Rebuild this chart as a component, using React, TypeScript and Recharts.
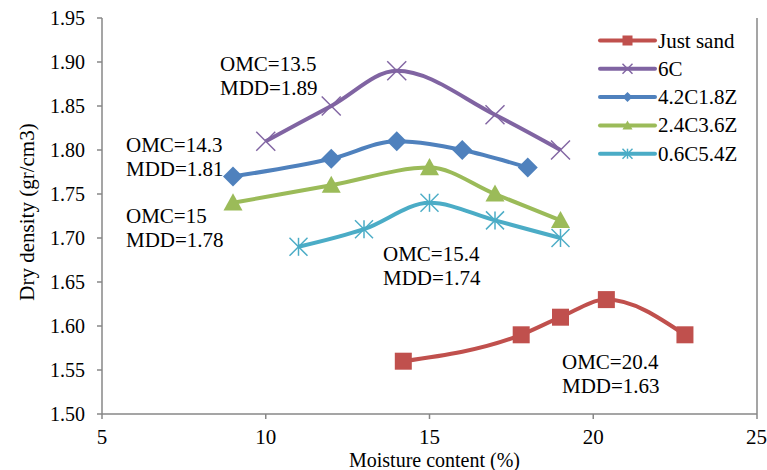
import React from 'react';
import { LineChart, Line, XAxis, YAxis, ReferenceLine } from 'recharts';

const moistureTicks = [5, 10, 15, 20, 25];
const densityTicks = [1.5, 1.55, 1.6, 1.65, 1.7, 1.75, 1.8, 1.85, 1.9, 1.95];

const seriesNames = ['Just sand', '6C', '4.2C1.8Z', '2.4C3.6Z', '0.6C5.4Z'];

const justSandMoisture = [14.2, 17.8, 19, 20.4, 22.8];
const justSandDensity = [1.56, 1.59, 1.61, 1.63, 1.59];

const c6Moisture = [10, 12, 14, 17, 19];
const c6Density = [1.81, 1.85, 1.89, 1.84, 1.8];

const c42z18Moisture = [9, 12, 14, 16, 18];
const c42z18Density = [1.77, 1.79, 1.81, 1.8, 1.78];

const c24z36Moisture = [9, 12, 15, 17, 19];
const c24z36Density = [1.74, 1.76, 1.78, 1.75, 1.72];

const c06z54Moisture = [11, 13, 15, 17, 19];
const c06z54Density = [1.69, 1.71, 1.74, 1.72, 1.7];

// optimum moisture content per series (same order as seriesNames)
const omcValues = [20.4, 13.5, 14.3, 15, 15.4];

const FONT = '"Liberation Serif", "Times New Roman", serif';
const AXIS = '#878787';

type MarkerKind = 'square' | 'cross' | 'diamond' | 'triangle' | 'star';

const toPoints = (xs: number[], ys: number[]) => xs.map((x, i) => ({ x, y: ys[i] }));

const series = [
  { name: seriesNames[0], color: '#C0504D', marker: 'square' as MarkerKind, data: toPoints(justSandMoisture, justSandDensity) },
  { name: seriesNames[1], color: '#8064A2', marker: 'cross' as MarkerKind, data: toPoints(c6Moisture, c6Density) },
  { name: seriesNames[2], color: '#4F81BD', marker: 'diamond' as MarkerKind, data: toPoints(c42z18Moisture, c42z18Density) },
  { name: seriesNames[3], color: '#9BBB59', marker: 'triangle' as MarkerKind, data: toPoints(c24z36Moisture, c24z36Density) },
  { name: seriesNames[4], color: '#4BACC6', marker: 'star' as MarkerKind, data: toPoints(c06z54Moisture, c06z54Density) },
];

// where each OMC / MDD note sits (top line centre, left aligned)
const notePositions = [
  { x: 562, y: 362 },
  { x: 220, y: 64 },
  { x: 126, y: 145 },
  { x: 126, y: 216 },
  { x: 383, y: 254 },
];

function Marker({ kind, cx, cy, size, color }: { kind: MarkerKind; cx: number; cy: number; size: number; color: string }) {
  const h = size / 2;
  switch (kind) {
    case 'square':
      return <rect x={cx - h} y={cy - h} width={size} height={size} fill={color} />;
    case 'diamond':
      return <polygon points={`${cx},${cy - h} ${cx + h},${cy} ${cx},${cy + h} ${cx - h},${cy}`} fill={color} />;
    case 'triangle':
      return <polygon points={`${cx},${cy - h} ${cx + h},${cy + h * 0.8} ${cx - h},${cy + h * 0.8}`} fill={color} />;
    case 'cross':
      return (
        <g stroke={color} strokeWidth={1.5}>
          <line x1={cx - h} y1={cy - h} x2={cx + h} y2={cy + h} />
          <line x1={cx - h} y1={cy + h} x2={cx + h} y2={cy - h} />
        </g>
      );
    default:
      return (
        <g stroke={color} strokeWidth={1.5}>
          <line x1={cx - h} y1={cy - h} x2={cx + h} y2={cy + h} />
          <line x1={cx - h} y1={cy + h} x2={cx + h} y2={cy - h} />
          <line x1={cx} y1={cy - h} x2={cx} y2={cy + h} />
        </g>
      );
  }
}

const markerSize: Record<MarkerKind, number> = { square: 17, diamond: 20, triangle: 19, cross: 19, star: 18 };

export default function App() {
  return (
    <div style={{ position: 'absolute', left: 0, top: 0, width: 767, height: 470, background: '#fff' }}>
      <LineChart width={767} height={470} margin={{ top: 18, right: 10, bottom: 0, left: 0 }}>
        <XAxis
          type="number"
          dataKey="x"
          domain={[5, 25]}
          ticks={moistureTicks}
          allowDataOverflow
          height={56}
          tickSize={5}
          tickMargin={10}
          axisLine={{ stroke: AXIS, strokeWidth: 1.5 }}
          tickLine={{ stroke: AXIS, strokeWidth: 1.5 }}
          tick={{ fill: '#000', fontSize: 21, fontFamily: FONT }}
          label={{ value: 'Moisture content (%)', position: 'insideBottom', offset: 3, dx: 5, fill: '#000', fontSize: 20, fontFamily: FONT }}
        />
        <YAxis
          type="number"
          dataKey="y"
          domain={[1.5, 1.95]}
          ticks={densityTicks}
          allowDataOverflow
          width={102}
          tickSize={5}
          tickMargin={12}
          tickFormatter={(v: number) => v.toFixed(2)}
          axisLine={{ stroke: AXIS, strokeWidth: 1.5 }}
          tickLine={{ stroke: AXIS, strokeWidth: 1.5 }}
          tick={{ fill: '#000', fontSize: 20, fontFamily: FONT }}
        />
        <ReferenceLine x={25} stroke={AXIS} strokeWidth={1.5} />
        {series.map((s) => (
          <Line
            key={s.name}
            name={s.name}
            data={s.data}
            dataKey="y"
            type="monotone"
            stroke={s.color}
            strokeWidth={4}
            isAnimationActive={false}
            dot={(p: any) => (
              <Marker key={`${s.name}-${p.index}`} kind={s.marker} cx={p.cx} cy={p.cy} size={markerSize[s.marker]} color={s.color} />
            )}
            activeDot={false}
          />
        ))}
      </LineChart>

      <svg width={767} height={470} style={{ position: 'absolute', left: 0, top: 0, pointerEvents: 'none' }} fontFamily={FONT}>
        <text x={27} y={212} transform="rotate(-90, 27, 212)" textAnchor="middle" dominantBaseline="central" fontSize={21} fill="#000">
          Dry density (gr/cm3)
        </text>

        {series.map((s, i) => {
          const mdd = Math.max(...s.data.map((d) => d.y));
          const pos = notePositions[i];
          return (
            <g key={`note-${s.name}`} fontSize={21} fill="#000">
              <text x={pos.x} y={pos.y} dominantBaseline="central">{`OMC=${omcValues[i]}`}</text>
              <text x={pos.x} y={pos.y + 24} dominantBaseline="central">{`MDD=${mdd.toFixed(2)}`}</text>
            </g>
          );
        })}

        {series.map((s, i) => {
          const cy = 40.5 + i * 28.3;
          return (
            <g key={`legend-${s.name}`}>
              <line x1={600} y1={cy} x2={655} y2={cy} stroke={s.color} strokeWidth={4} strokeLinecap="round" />
              <Marker kind={s.marker} cx={627.5} cy={cy} size={10} color={s.color} />
              <text x={658} y={cy} dominantBaseline="central" fontSize={21} fill="#000">
                {s.name}
              </text>
            </g>
          );
        })}
      </svg>
    </div>
  );
}
